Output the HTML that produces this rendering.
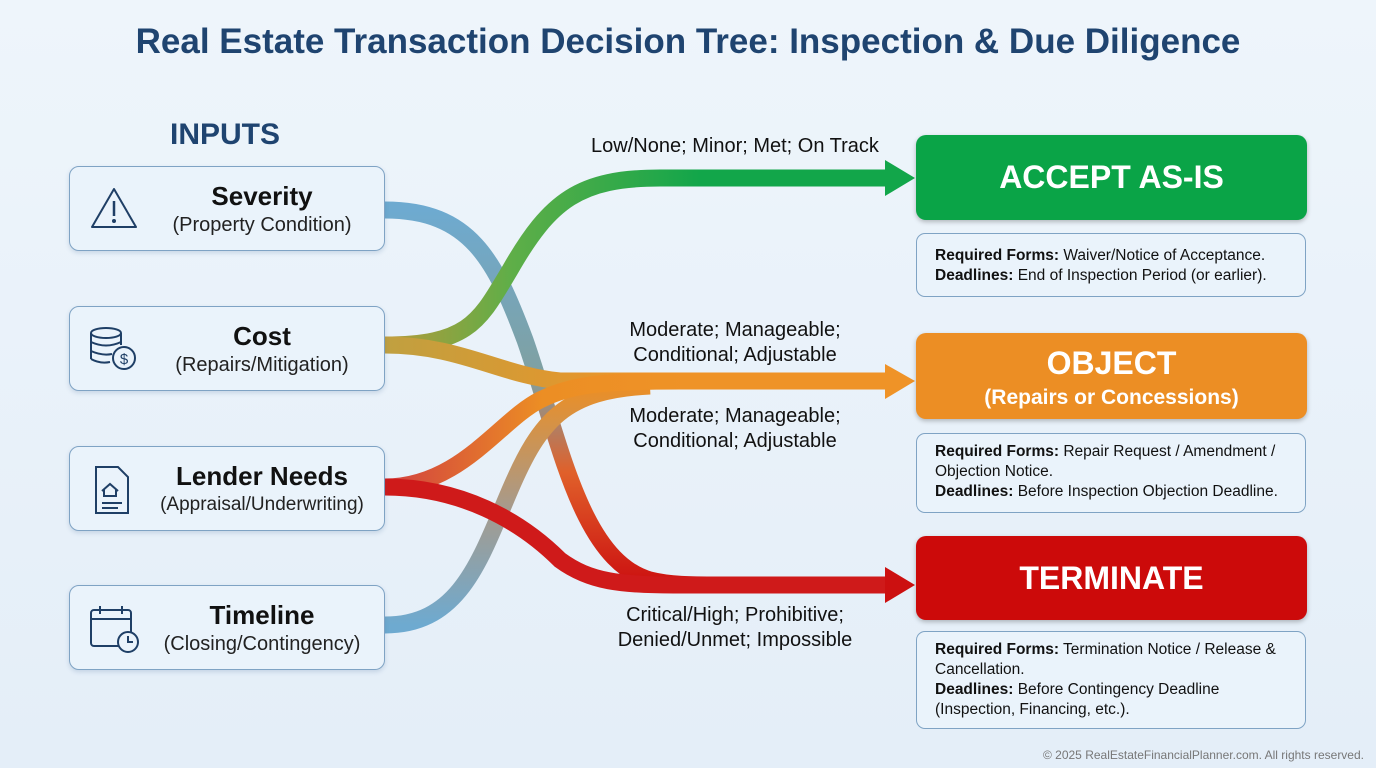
<!DOCTYPE html>
<html><head><meta charset="utf-8"><style>
body{margin:0;width:1376px;height:768px;overflow:hidden;background:linear-gradient(180deg,#eef5fb,#e4eef8);font-family:"Liberation Sans",sans-serif;position:relative}
.t{position:absolute;left:0;width:1376px;text-align:center;top:22px;font-size:35px;font-weight:bold;color:#1f4470}
.in{position:absolute;left:69px;width:314px;height:83px;border:1.5px solid #7fa3c4;border-radius:10px;background:#eaf3fb;box-shadow:0 2px 5px rgba(60,100,150,.2)}
.in .a{position:absolute;left:70px;right:0;text-align:center;top:14px;font-size:26px;font-weight:bold;color:#111}
.in .b{position:absolute;left:70px;right:0;text-align:center;top:47px;font-size:20px;color:#222}
.in svg{position:absolute;left:18px;top:18px}
.ob{position:absolute;left:916px;width:391px;border-radius:10px;color:#fff;text-align:center;font-weight:bold;box-shadow:0 2px 5px rgba(0,0,0,.25)}
.sb{position:absolute;left:916px;border:1.5px solid #7fa3c4;border-radius:9px;background:#eaf3fb;padding:6px 6px 6px 18px;font-size:15.5px;line-height:20px;color:#111;width:364px}
.lb{position:absolute;font-size:20px;color:#111;text-align:center;line-height:25px}
</style></head><body>
<div class="t">Real Estate Transaction Decision Tree: Inspection &amp; Due Diligence</div>
<div style="position:absolute;left:170px;top:118px;font-size:30px;font-weight:bold;color:#1f4470">INPUTS</div>

<svg width="1376" height="768" style="position:absolute;left:0;top:0">
<defs>
<linearGradient id="g1" x1="385" y1="0" x2="700" y2="0" gradientUnits="userSpaceOnUse"><stop offset="0" stop-color="#b59a3a"/><stop offset=".4" stop-color="#5fae48"/><stop offset="1" stop-color="#12a64a"/></linearGradient>
<linearGradient id="g2" x1="0" y1="210" x2="0" y2="585" gradientUnits="userSpaceOnUse"><stop offset="0" stop-color="#6eaad0"/><stop offset=".45" stop-color="#80a0a0"/><stop offset=".7" stop-color="#e0602a"/><stop offset="1" stop-color="#cc1010"/></linearGradient>
<linearGradient id="g3" x1="385" y1="0" x2="700" y2="0" gradientUnits="userSpaceOnUse"><stop offset="0" stop-color="#d14040"/><stop offset=".5" stop-color="#ec8e24"/><stop offset="1" stop-color="#ef9327"/></linearGradient>
<linearGradient id="g4" x1="0" y1="625" x2="0" y2="385" gradientUnits="userSpaceOnUse"><stop offset="0" stop-color="#6eaad0"/><stop offset=".5" stop-color="#a89a8a"/><stop offset="1" stop-color="#ec8e24"/></linearGradient>
<linearGradient id="g5" x1="385" y1="0" x2="650" y2="0" gradientUnits="userSpaceOnUse"><stop offset="0" stop-color="#c0a040"/><stop offset="1" stop-color="#ef9327"/></linearGradient>
</defs>
<g fill="none" stroke-width="17" stroke-linecap="butt">
<path d="M385,210 C470,210 495,260 525,340 C560,440 580,560 650,580 C670,585 690,585 720,585" stroke="url(#g2)"/>
<path d="M385,625 C460,625 480,560 510,490 C540,420 565,390 650,386" stroke="url(#g4)"/>
<path d="M385,345 C470,345 480,320 510,270 C550,200 580,178 660,178 L890,178" stroke="url(#g1)"/>
<path d="M385,345 C460,345 500,375 560,381 L890,381" stroke="url(#g5)"/>
<path d="M385,487 C460,487 500,420 540,400 C570,385 600,381 680,381" stroke="url(#g3)"/>
<path d="M385,487 C460,487 520,520 560,560 C590,582 620,585 680,585 L890,585" stroke="#cf1a1a"/>
</g>
<polygon points="885,160 915,178 885,196" fill="#12a64a"/>
<polygon points="885,364 915,381 885,399" fill="#ef9327"/>
<polygon points="885,567 915,585 885,603" fill="#cc1010"/>
</svg>

<div class="in" style="top:166px"><svg width="52" height="48"><path d="M26,4 L48,42 L4,42 Z" fill="none" stroke="#1f3f66" stroke-width="2" stroke-linejoin="round"/><line x1="26" y1="16" x2="26" y2="31" stroke="#1f3f66" stroke-width="2.5"/><circle cx="26" cy="36" r="2" fill="#1f3f66"/></svg><div class="a">Severity</div><div class="b">(Property Condition)</div></div>
<div class="in" style="top:306px"><svg width="52" height="48"><ellipse cx="18" cy="8" rx="15" ry="5" fill="none" stroke="#1f3f66" stroke-width="2"/><path d="M3,8 V34 M33,8 V20 M3,17 Q18,24 33,17 M3,26 Q14,31 24,29 M3,34 Q12,39 22,37" fill="none" stroke="#1f3f66" stroke-width="2"/><circle cx="36" cy="33" r="11" fill="#eaf3fb" stroke="#1f3f66" stroke-width="2"/><text x="36" y="39" font-size="15" text-anchor="middle" fill="#1f3f66">$</text></svg><div class="a">Cost</div><div class="b">(Repairs/Mitigation)</div></div>
<div class="in" style="top:446px"><svg width="52" height="52"><path d="M8,2 H30 L40,12 V48 H8 Z" fill="none" stroke="#1f3f66" stroke-width="2"/><path d="M14,26 L22,19 L30,26 M16,24 V31 H28 V24 M14,38 H34 M14,43 H30" fill="none" stroke="#1f3f66" stroke-width="2"/></svg><div class="a">Lender Needs</div><div class="b" style="font-size:19px">(Appraisal/Underwriting)</div></div>
<div class="in" style="top:585px"><svg width="56" height="52"><rect x="3" y="6" width="40" height="36" rx="3" fill="none" stroke="#1f3f66" stroke-width="2"/><path d="M3,15 H43 M12,2 V10 M34,2 V10" stroke="#1f3f66" stroke-width="2"/><circle cx="40" cy="38" r="10" fill="#eaf3fb" stroke="#1f3f66" stroke-width="2"/><path d="M40,32 V38 H45" fill="none" stroke="#1f3f66" stroke-width="2"/></svg><div class="a">Timeline</div><div class="b">(Closing/Contingency)</div></div>

<div class="lb" style="left:585px;top:134px;width:300px">Low/None; Minor; Met; On Track</div>
<div class="lb" style="left:600px;top:318px;width:270px">Moderate; Manageable;<br>Conditional; Adjustable</div>
<div class="lb" style="left:600px;top:404px;width:270px">Moderate; Manageable;<br>Conditional; Adjustable</div>
<div class="lb" style="left:585px;top:603px;width:300px">Critical/High; Prohibitive;<br>Denied/Unmet; Impossible</div>

<div class="ob" style="top:135px;height:85px;line-height:85px;background:#0aa447;font-size:32px">ACCEPT AS-IS</div>
<div class="sb" style="top:233px;height:40px;padding-top:12px;padding-bottom:10px">
<b>Required Forms:</b> Waiver/Notice of Acceptance.<br><b>Deadlines:</b> End of Inspection Period (or earlier).</div>
<div class="ob" style="top:333px;height:86px;background:#ec8e24"><div style="font-size:32px;margin-top:12px">OBJECT</div><div style="font-size:21px;margin-top:4px">(Repairs or Concessions)</div></div>
<div class="sb" style="top:433px;height:64px;padding-top:8px"><b>Required Forms:</b> Repair Request / Amendment / Objection Notice.<br><b>Deadlines:</b> Before Inspection Objection Deadline.</div>
<div class="ob" style="top:536px;height:84px;line-height:84px;background:#cc0a0a;font-size:32px">TERMINATE</div>
<div class="sb" style="top:631px;height:82px;padding-top:8px"><b>Required Forms:</b> Termination Notice / Release &amp; Cancellation.<br><b>Deadlines:</b> Before Contingency Deadline (Inspection, Financing, etc.).</div>
<div style="position:absolute;right:12px;top:748px;font-size:12px;color:#777">© 2025 RealEstateFinancialPlanner.com. All rights reserved.</div>
</body></html>
